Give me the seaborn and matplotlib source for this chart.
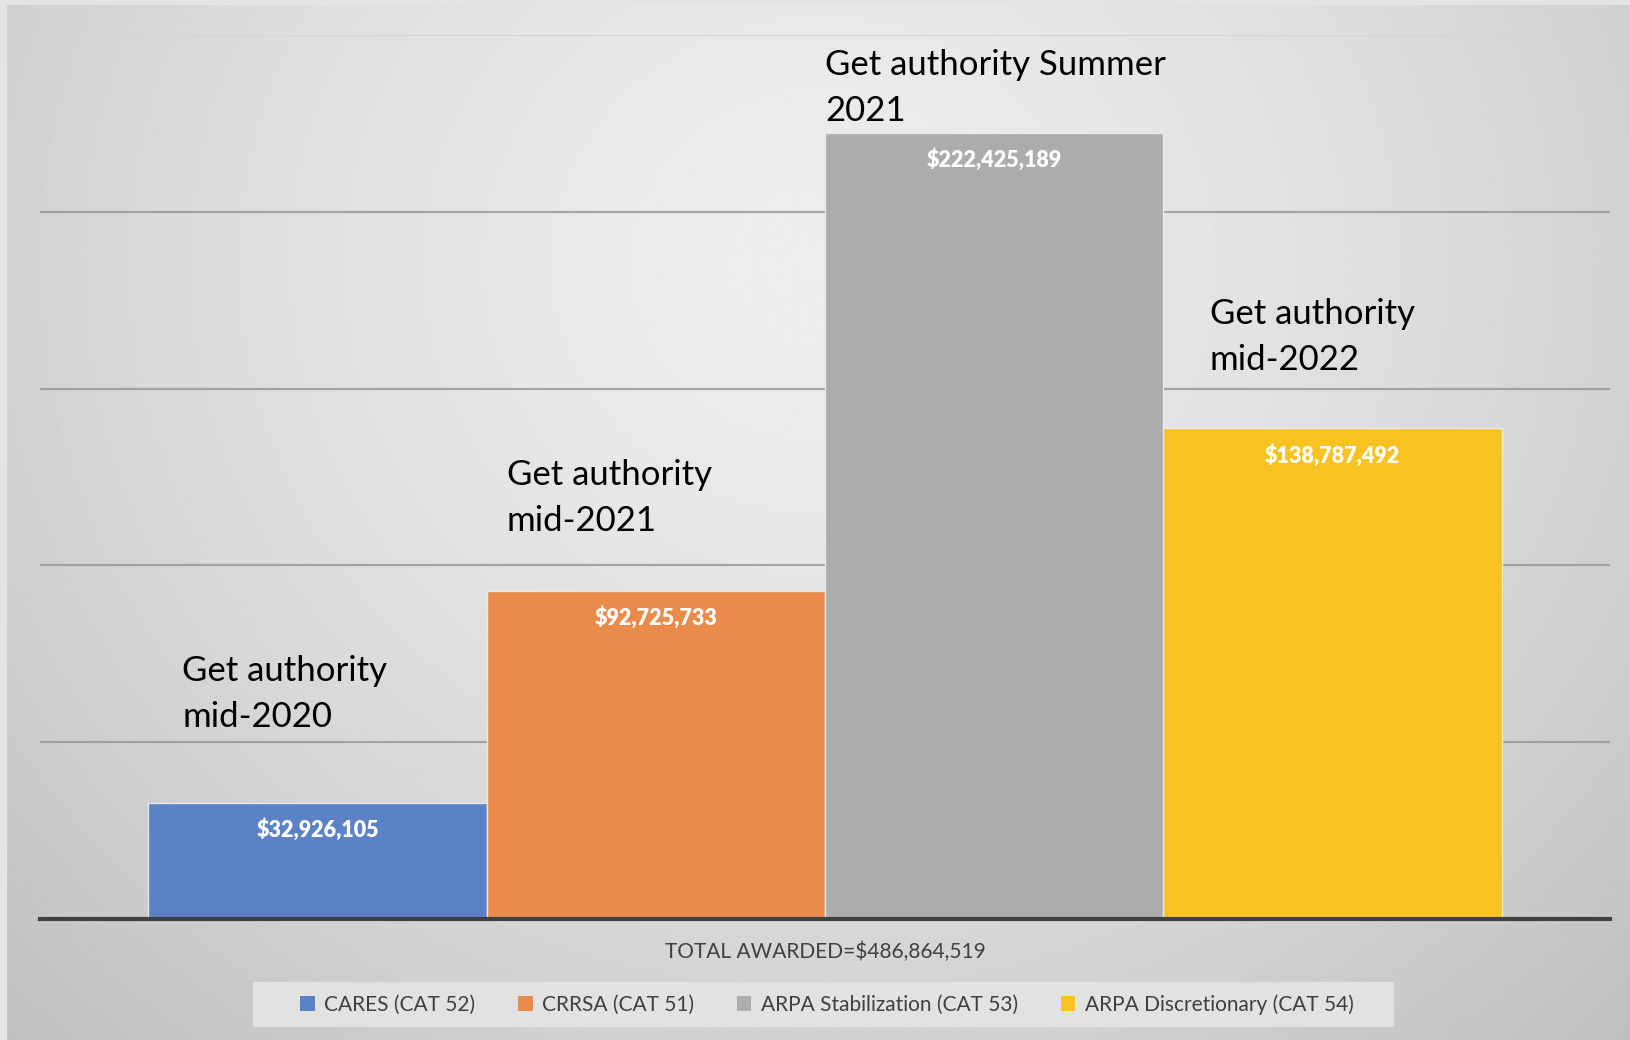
import numpy as np
import pandas as pd
import matplotlib.pyplot as plt
import seaborn as sns
from matplotlib.patches import Patch, Rectangle

# data
programs = ['CARES (CAT 52)', 'CRRSA (CAT 51)', 'ARPA Stabilization (CAT 53)', 'ARPA Discretionary (CAT 54)']
awards = [32926105, 92725733, 222425189, 138787492]
notes = ['Get authority\nmid-2020', 'Get authority\nmid-2021', 'Get authority Summer\n2021', 'Get authority\nmid-2022']
note_x_offset = [0.10, 0.06, 0.0, 0.137]
note_y = [52.5e6, 108e6, 224e6, 153.5e6]
total_label = 'TOTAL AWARDED=$486,864,519'
colors = ['#5b81c6', '#ea8b4b', '#acacac', '#f8c322']

df = pd.DataFrame({'program': programs, 'award': awards})

sns.set_style('white')
plt.rcParams['font.family'] = ['Lato', 'DejaVu Sans']

fig = plt.figure(figsize=(16.31, 10.40), dpi=100)
fig.patch.set_facecolor('#e4e4e4')

# radial gradient background like the Excel chart area
bg = fig.add_axes([7 / 1631, 0, 1 - 7 / 1631, 1 - 5 / 1040])
yy, xx = np.mgrid[0:1:600j, 0:1:1000j]
d = np.sqrt(((xx - 0.5) / 0.72) ** 2 + ((yy - 0.25) / 1.05) ** 2)
shade = 0.93 - 0.18 * np.clip(d, 0, 1) ** 1.5
bg.imshow(shade, cmap='gray', vmin=0, vmax=1, aspect='auto', extent=[0, 1, 1, 0],
          interpolation='bilinear')
bg.set_axis_off()
bg.set_zorder(0)

ax = fig.add_axes([40 / 1631, 121 / 1040, (1610 - 40) / 1631, (1005 - 121) / 1040])
ax.set_zorder(1)
ax.patch.set_alpha(0)

# gridlines
for v in [50e6, 100e6, 150e6, 200e6]:
    ax.axhline(v, color='#959595', lw=1.6, alpha=0.8, zorder=0)
ax.axhline(250e6, color='#d4d4d4', lw=1.6, zorder=0)

sns.barplot(data=df, x='program', y='award', hue='program', palette=colors,
            width=1.0, legend=False, edgecolor='#e8e8e8', linewidth=1.0,
            saturation=1, ax=ax, zorder=2)

ax.set_xlim(-0.82, 3.82)
ax.set_ylim(0, 250e6)
ax.set_yticks([])
ax.set_xticks([])
ax.set_ylabel('')
ax.set_xlabel(total_label, fontsize=15, color='#404040', labelpad=16)
for s in ['top', 'right', 'left']:
    ax.spines[s].set_visible(False)
ax.spines['bottom'].set_color('#404040')
ax.spines['bottom'].set_linewidth(3)
ax.spines['bottom'].set_zorder(3)

for i, v in enumerate(awards):
    ax.text(i, v - 7.6e6, f'${v:,.0f}', ha='center', va='center',
            color='white', fontsize=15.5, fontweight='heavy', zorder=4)
    ax.text(i - 0.5 + note_x_offset[i], note_y[i], notes[i], ha='left', va='bottom',
            fontsize=25, color='black', linespacing=1.55, zorder=4)

# legend box
fig.patches.append(Rectangle((253 / 1631, 13 / 1040), (1394 - 253) / 1631, 45 / 1040,
                             transform=fig.transFigure, facecolor='#e2e2e2',
                             edgecolor='none', zorder=1))
handles = [Patch(facecolor=c, edgecolor='none') for c in colors]
leg = fig.legend(handles, programs, loc='center', bbox_to_anchor=(0.507, 0.034),
                 ncol=4, frameon=False, fontsize=15, handlelength=0.7, handleheight=0.7,
                 handletextpad=0.45, columnspacing=2.05)
for t in leg.get_texts():
    t.set_color('#404040')

fig.savefig('out.png', dpi=100)
